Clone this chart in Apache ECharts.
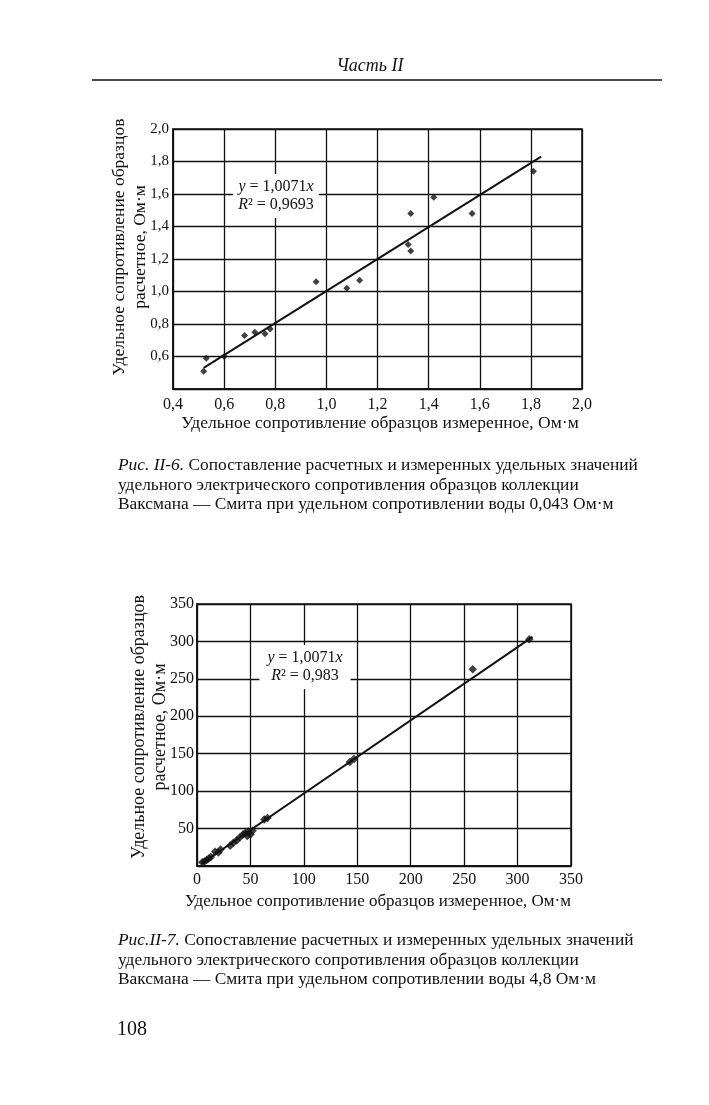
<!DOCTYPE html>
<html>
<head>
<meta charset="utf-8">
<script src="https://cdn.jsdelivr.net/npm/echarts@6/dist/echarts.min.js"></script>
<style>
html,body{margin:0;padding:0;background:#fff;}
#c{width:709px;height:1105px;}
</style>
</head>
<body>
<div id="c"></div>
<script>
// ---- Figure II-6 data ----
const fig6X = [0.52, 0.53, 0.60, 0.68, 0.72, 0.76, 0.78, 0.96, 1.08, 1.13, 1.32, 1.33, 1.33, 1.42, 1.57, 1.81];
const fig6Y = [0.51, 0.59, 0.60, 0.73, 0.75, 0.74, 0.77, 1.06, 1.02, 1.07, 1.29, 1.25, 1.48, 1.58, 1.48, 1.74];
const fig6TrendX = [0.52, 1.84];
const fig6TrendY = [0.53, 1.83];
const fig6Ticks = [0.4, 0.6, 0.8, 1.0, 1.2, 1.4, 1.6, 1.8, 2.0];

// ---- Figure II-7 data ----
const fig7X = [5, 7, 9, 11, 13, 17, 20, 22, 31, 34, 37, 40, 43, 45, 47, 48, 50, 52, 63, 66, 143, 147, 258, 311];
const fig7Y = [5, 6, 8, 10, 12, 19, 18, 22, 27, 31, 34, 38, 42, 44, 40, 46, 42, 47, 62, 64, 139, 143, 263, 303];
const fig7TrendX = [4, 314];
const fig7TrendY = [3, 306];
const fig7Ticks = [0, 50, 100, 150, 200, 250, 300, 350];

// ---- Texts ----
const headerText = 'Часть II';
const yTitle = 'Удельное сопротивление образцов\nрасчетное, Ом·м';
const xTitle = 'Удельное сопротивление образцов измеренное, Ом·м';
const eq6 = ['{i|y} = 1,0071{i|x}', '{i|R}² = 0,9693'];
const eq7 = ['{i|y} = 1,0071{i|x}', '{i|R}² = 0,983'];
const cap6Label = 'Рис. II-6.';
const cap6 = [' Сопоставление расчетных и измеренных удельных значений',
  'удельного электрического сопротивления образцов коллекции',
  'Ваксмана — Смита при удельном сопротивлении воды 0,043 Ом·м'];
const cap7Label = 'Рис.II-7.';
const cap7 = [' Сопоставление расчетных и измеренных удельных значений',
  'удельного электрического сопротивления образцов коллекции',
  'Ваксмана — Смита при удельном сопротивлении воды 4,8 Ом·м'];
const pageNumber = '108';

const zip = (a, b) => a.map((v, i) => [v, b[i]]);
const FONT = '"Liberation Serif", "DejaVu Serif", serif';
const INK = '#111';

function comma(v, d) { return v.toFixed(d).replace('.', ','); }

const chart = echarts.init(document.getElementById('c'));

const gridLine = { show: true, lineStyle: { color: INK, width: 1.3 } };
const axLine = { show: true, onZero: false, lineStyle: { color: INK, width: 1.5 } };
const richFor = size => ({
  n: { fontFamily: FONT, fontSize: size, lineHeight: size + 2 },
  i: { fontStyle: 'italic', fontFamily: FONT, fontSize: size, lineHeight: size + 2 }
});

chart.setOption({
  backgroundColor: '#fff',
  animation: false,
  grid: [
    { left: 173, top: 129, width: 409, height: 260, show: true, borderColor: INK, borderWidth: 1.5, backgroundColor: 'transparent' },
    { left: 197, top: 604, width: 374, height: 262, show: true, borderColor: INK, borderWidth: 1.5, backgroundColor: 'transparent' }
  ],
  xAxis: [
    { gridIndex: 0, type: 'value', min: fig6Ticks[0], max: fig6Ticks[fig6Ticks.length - 1], interval: 0.2,
      axisLine: axLine, axisTick: { show: false }, splitLine: gridLine,
      axisLabel: { color: INK, fontFamily: FONT, fontSize: 16, margin: 8, formatter: v => comma(v, 1) } },
    { gridIndex: 1, type: 'value', min: fig7Ticks[0], max: fig7Ticks[fig7Ticks.length - 1], interval: 50,
      axisLine: axLine, axisTick: { show: false }, splitLine: gridLine,
      axisLabel: { color: INK, fontFamily: FONT, fontSize: 16, margin: 6 } }
  ],
  yAxis: [
    { gridIndex: 0, type: 'value', min: fig6Ticks[0], max: fig6Ticks[fig6Ticks.length - 1], interval: 0.2,
      axisLine: axLine, axisTick: { show: false }, splitLine: gridLine,
      axisLabel: { color: INK, fontFamily: FONT, fontSize: 15, margin: 4,
        formatter: v => (Math.abs(v - fig6Ticks[0]) < 1e-9 ? '' : comma(v, 1)) } },
    { gridIndex: 1, type: 'value', min: fig7Ticks[0], max: fig7Ticks[fig7Ticks.length - 1], interval: 50,
      axisLine: axLine, axisTick: { show: false }, splitLine: gridLine,
      axisLabel: { color: INK, fontFamily: FONT, fontSize: 16, margin: 3,
        formatter: v => (v === 0 ? '' : String(v)) } }
  ],
  series: [
    { type: 'line', xAxisIndex: 0, yAxisIndex: 0, data: zip(fig6TrendX, fig6TrendY), symbol: 'none',
      lineStyle: { color: INK, width: 2 }, z: 3 },
    { type: 'scatter', xAxisIndex: 0, yAxisIndex: 0, data: zip(fig6X, fig6Y), symbol: 'diamond',
      symbolSize: 7, itemStyle: { color: INK }, z: 4 },
    { type: 'line', xAxisIndex: 1, yAxisIndex: 1, data: zip(fig7TrendX, fig7TrendY), symbol: 'none',
      lineStyle: { color: INK, width: 2 }, z: 3 },
    { type: 'scatter', xAxisIndex: 1, yAxisIndex: 1, data: zip(fig7X, fig7Y), symbol: 'diamond',
      symbolSize: 8.5, itemStyle: { color: INK }, z: 4 }
  ],
  graphic: [
    // header
    { type: 'text', x: 370, y: 66, z: 10,
      style: { text: headerText, fill: INK, font: 'italic 18px ' + FONT, align: 'center', verticalAlign: 'middle' } },
    { type: 'line', z: 10, shape: { x1: 92, y1: 80, x2: 662, y2: 80 }, style: { stroke: INK, lineWidth: 1.5 } },
    // figure 6 axis titles
    { type: 'text', x: 130, y: 247, rotation: Math.PI / 2, z: 10,
      style: { text: yTitle, fill: INK, font: '17.5px ' + FONT, align: 'center', verticalAlign: 'middle', lineHeight: 21 } },
    { type: 'text', x: 380, y: 423, z: 10,
      style: { text: xTitle, fill: INK, font: '17.5px ' + FONT, align: 'center', verticalAlign: 'middle' } },
    // figure 6 equation box
    { type: 'text', x: 276, y: 196, z: 10,
      style: { text: eq6.map(s => '{n|' + s.replace(/\{i\|([^}]*)\}/g, '}{i|$1}{n|') + '}').join('\n'),
        fill: INK, font: '16px ' + FONT, align: 'center', verticalAlign: 'middle',
        backgroundColor: '#fff', padding: [4, 5, 4, 5], rich: richFor(16) } },
    // figure 6 caption
    { type: 'text', x: 118, y: 456, z: 10,
      style: { text: '{i|' + cap6Label + '}{n|' + cap6[0] + '}\n{n|' + cap6[1] + '}\n{n|' + cap6[2] + '}',
        fill: INK, font: '17.4px ' + FONT, rich: richFor(17.4) } },
    // figure 7 axis titles
    { type: 'text', x: 150, y: 727, rotation: Math.PI / 2, z: 10,
      style: { text: yTitle, fill: INK, font: '18px ' + FONT, align: 'center', verticalAlign: 'middle', lineHeight: 21 } },
    { type: 'text', x: 378, y: 902, z: 10,
      style: { text: xTitle, fill: INK, font: '17px ' + FONT, align: 'center', verticalAlign: 'middle' } },
    // figure 7 equation box
    { type: 'text', x: 305, y: 667, z: 10,
      style: { text: eq7.map(s => '{n|' + s.replace(/\{i\|([^}]*)\}/g, '}{i|$1}{n|') + '}').join('\n'),
        fill: INK, font: '16px ' + FONT, align: 'center', verticalAlign: 'middle',
        backgroundColor: '#fff', padding: [4, 8, 4, 8], rich: richFor(16) } },
    // figure 7 caption
    { type: 'text', x: 118, y: 931, z: 10,
      style: { text: '{i|' + cap7Label + '}{n|' + cap7[0] + '}\n{n|' + cap7[1] + '}\n{n|' + cap7[2] + '}',
        fill: INK, font: '17.4px ' + FONT, rich: richFor(17.4) } },
    // page number
    { type: 'text', x: 117, y: 1020, z: 10,
      style: { text: pageNumber, fill: INK, font: '20px ' + FONT } }
  ]
});
</script>
</body>
</html>
